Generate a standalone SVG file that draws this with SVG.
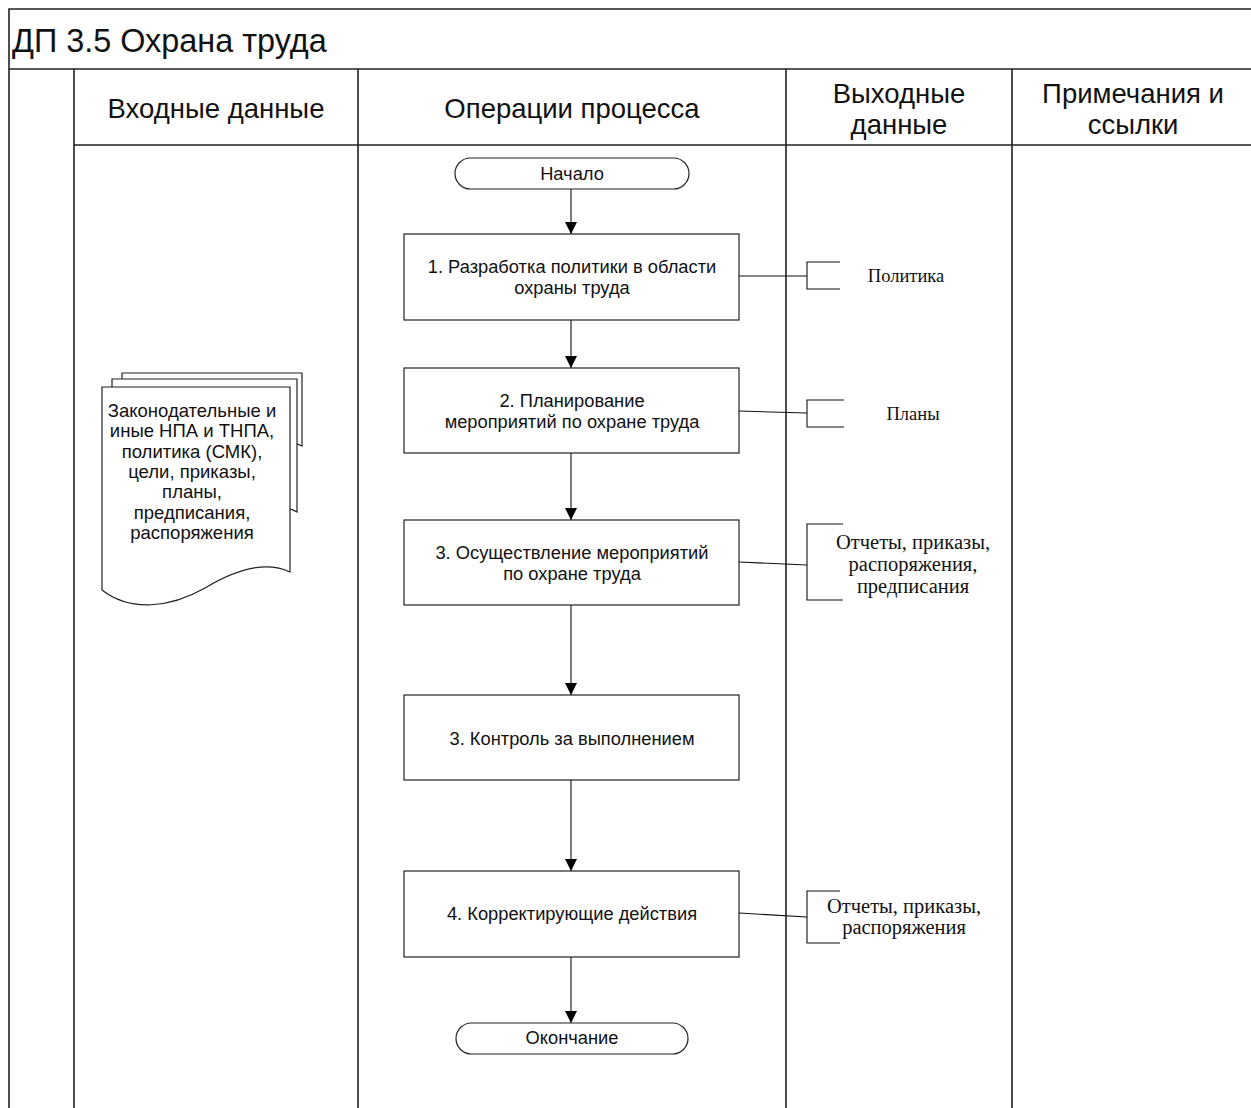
<svg xmlns="http://www.w3.org/2000/svg" width="1251" height="1108" viewBox="0 0 1251 1108">
<style>
.lane{stroke:#222;stroke-width:1.6;fill:none}
.box{fill:#fff;stroke:#222;stroke-width:1.2}
.ln{stroke:#111;stroke-width:1.1;fill:none}
.t{font-family:"Liberation Sans",Arial,sans-serif;fill:#111;text-anchor:middle}
.s{font-family:"Liberation Serif","Times New Roman",serif;fill:#111;text-anchor:middle}
.s1{font-size:18.5px}
.s2{font-size:20.5px}
.p{font-size:18.3px}
.d{font-size:18.5px}
.h{font-size:27.5px}
</style>
<defs>
<marker id="ah" markerWidth="12" markerHeight="14" refX="12" refY="6" orient="auto" markerUnits="userSpaceOnUse">
<path d="M0,0 L12,6 L0,12 z" fill="#000"/>
</marker>
</defs>
<rect width="1251" height="1108" fill="#fff"/>
<g id="frame">
<path class="lane" d="M9,1108 V9 H1251"/>
<path class="lane" d="M9,69 H1251"/>
<path class="lane" d="M74,145 H1251"/>
<path class="lane" d="M74,69 V1108 M358,69 V1108 M786,69 V1108 M1012,69 V1108"/>
<text x="12" y="52" font-family="Liberation Sans,Arial,sans-serif" font-size="32.4" fill="#111">ДП 3.5 Охрана труда</text>
<text class="t h" x="216" y="118">Входные данные</text>
<text class="t h" x="572" y="118">Операции процесса</text>
<text class="t h" x="899" y="103">Выходные</text>
<text class="t h" x="899" y="134">данные</text>
<text class="t h" x="1133" y="103">Примечания и</text>
<text class="t h" x="1133" y="134">ссылки</text>
</g>
<g id="connectors">
<line class="ln" x1="571" y1="189" x2="571" y2="234" marker-end="url(#ah)"/>
<line class="ln" x1="571" y1="320" x2="571" y2="368" marker-end="url(#ah)"/>
<line class="ln" x1="571" y1="453" x2="571" y2="520" marker-end="url(#ah)"/>
<line class="ln" x1="571" y1="605" x2="571" y2="695" marker-end="url(#ah)"/>
<line class="ln" x1="571" y1="780" x2="571" y2="871" marker-end="url(#ah)"/>
<line class="ln" x1="571" y1="957" x2="571" y2="1023" marker-end="url(#ah)"/>
<path class="ln" d="M739,276 H807"/>
<path class="ln" d="M739,411 L807,413"/>
<path class="ln" d="M739,562 L807,565"/>
<path class="ln" d="M739,913 L807,917"/>
</g>
<g id="start">
<rect class="box" x="455" y="158" width="234" height="31" rx="15.5"/>
<text class="t p" x="572" y="180">Начало</text>
</g>
<g id="op1">
<rect class="box" x="404" y="234" width="335" height="86"/>
<text class="t p" x="572" y="273">1. Разработка политики в области</text>
<text class="t p" x="572" y="294">охраны труда</text>
</g>
<g id="op2">
<rect class="box" x="404" y="368" width="335" height="85"/>
<text class="t p" x="572" y="407">2. Планирование</text>
<text class="t p" x="572" y="428">мероприятий по охране труда</text>
</g>
<g id="op3">
<rect class="box" x="404" y="520" width="335" height="85"/>
<text class="t p" x="572" y="559">3. Осуществление мероприятий</text>
<text class="t p" x="572" y="580">по охране труда</text>
</g>
<g id="op3b">
<rect class="box" x="404" y="695" width="335" height="85"/>
<text class="t p" x="572" y="745">3. Контроль за выполнением</text>
</g>
<g id="op4">
<rect class="box" x="404" y="871" width="335" height="86"/>
<text class="t p" x="572" y="920">4. Корректирующие действия</text>
</g>
<g id="end">
<rect class="box" x="456" y="1023" width="232" height="31" rx="15.5"/>
<text class="t p" x="572" y="1044">Окончание</text>
</g>
<g id="out1">
<path class="ln" d="M840,262 H807 V289 H840"/>
<text class="s s1" x="906" y="282">Политика</text>
</g>
<g id="out2">
<path class="ln" d="M844,400 H807 V427 H844"/>
<text class="s s1" x="913" y="420">Планы</text>
</g>
<g id="out3">
<path class="ln" d="M843,524 H807 V600 H843"/>
<text class="s s2" x="913" y="549">Отчеты, приказы,</text>
<text class="s s2" x="913" y="571">распоряжения,</text>
<text class="s s2" x="913" y="593">предписания</text>
</g>
<g id="out4">
<path class="ln" d="M840,891 H807 V943 H840"/>
<text class="s s2" x="904" y="913">Отчеты, приказы,</text>
<text class="s s2" x="904" y="934">распоряжения</text>
</g>
<g id="input">
<path class="box" d="M122,442 V373 H302 V446 C290,440 270,438 250,445 Z"/>
<path class="box" d="M112,505 V379 H297 V512 C285,505 265,503 245,510 Z"/>
<path class="box" d="M102,590 V387 H290 V572 C265,560 235,570 205,588 C170,608 130,612 102,590 Z"/>
<text class="t d" x="192" y="417">Законодательные и</text>
<text class="t d" x="192" y="437">иные НПА и ТНПА,</text>
<text class="t d" x="192" y="458">политика (СМК),</text>
<text class="t d" x="192" y="478">цели, приказы,</text>
<text class="t d" x="192" y="498">планы,</text>
<text class="t d" x="192" y="519">предписания,</text>
<text class="t d" x="192" y="539">распоряжения</text>
</g>
</svg>
